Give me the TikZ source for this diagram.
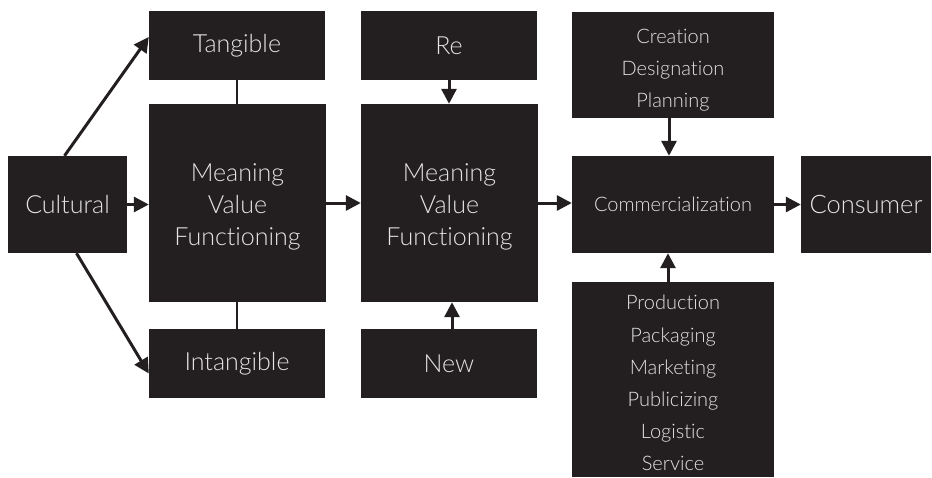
\documentclass[tikz,border=0pt]{standalone}
\usepackage{fontspec}
\setmainfont{Lato}[UprightFont=* Light, Ligatures=NoCommon]
\usetikzlibrary{arrows.meta}

\definecolor{boxblack}{HTML}{231F20}
\definecolor{boxtext}{HTML}{E4E4E4}

% extra room above the first line of a stacked label
\newcommand{\topgap}[1]{\rule{0pt}{#1}}

\begin{document}
\begin{tikzpicture}[x=1pt,y=-1pt,
    box/.style={rectangle, fill=boxblack, text=boxtext, inner sep=0pt, align=center},
    bigtext/.style={font=\fontsize{25}{32}\selectfont},
    smalltext/.style={font=\fontsize{20}{32.2}\selectfont},
    arr/.style={draw=boxblack, line width=3pt, -{Triangle[length=15pt,width=15pt]}},
    link/.style={draw=boxblack, line width=2pt}]

      % Page size
      \useasboundingbox (0,0) rectangle (932,477);

      % Left column
      \node[box, bigtext, minimum width=119pt, minimum height=97pt] (cultural) at (67.5,204.5) {Cultural};
      \node[box, bigtext, minimum width=176pt, minimum height=69pt] (tangible) at (237,45.5) {Tangible};
      \node[box, bigtext, minimum width=177pt, minimum height=198pt] (mvf1) at (237.5,203) {\topgap{26pt}Meaning\\Value\\Functioning};
      \node[box, bigtext, minimum width=176pt, minimum height=69pt] (intangible) at (237,363.5) {Intangible};

      % Middle column
      \node[box, bigtext, minimum width=176pt, minimum height=69pt] (re) at (449,45.5) {Re};
      \node[box, bigtext, minimum width=177pt, minimum height=198pt] (mvf2) at (449.5,203) {\topgap{26pt}Meaning\\Value\\Functioning};
      \node[box, bigtext, minimum width=176pt, minimum height=69pt] (new) at (449,363.5) {New};

      % Right column
      \node[box, smalltext, minimum width=202pt, minimum height=106pt] (creation) at (673,65) {\topgap{24.5pt}Creation\\Designation\\Planning};
      \node[box, smalltext, minimum width=202pt, minimum height=97pt] (commerce) at (673,204.5) {Commercialization};
      \node[box, smalltext, minimum width=202pt, minimum height=195pt] (process) at (673,379.5)
        {\topgap{22pt}Production\\Packaging\\Marketing\\Publicizing\\Logistic\\Service};
      \node[box, font=\fontsize{25.5}{32}\selectfont, minimum width=130pt, minimum height=97pt] (consumer) at (866,204.5) {Consumer};

      % Main flow
      \foreach \a/\b in {cultural/mvf1, mvf1/mvf2, mvf2/commerce, commerce/consumer} {
        \draw[arr] (\a.east) -- (\a.east -| \b.west);
      }

      % Branches from Cultural
      \draw[arr] ([xshift=-3pt]cultural.north) -- ([yshift=8.5pt]tangible.west);
      \draw[arr] ([xshift=9pt]cultural.south) -- ([yshift=-10pt]intangible.west);

      % Plain links
      \draw[link] (tangible.south) -- (tangible.south |- mvf1.north);
      \draw[link] (intangible.north) -- (intangible.north |- mvf1.south);

      % Vertical arrows
      \draw[arr] (re.south) -- (re.south |- mvf2.north);
      \draw[arr] ([xshift=3pt]new.north) -- ([xshift=3pt]new.north |- mvf2.south);
      \draw[arr] ([xshift=-4pt]creation.south) -- ([xshift=-4pt]creation.south |- commerce.north);
      \draw[arr] ([xshift=-5pt]process.north) -- ([xshift=-5pt]process.north |- commerce.south);
    \end{tikzpicture}
\end{document}
